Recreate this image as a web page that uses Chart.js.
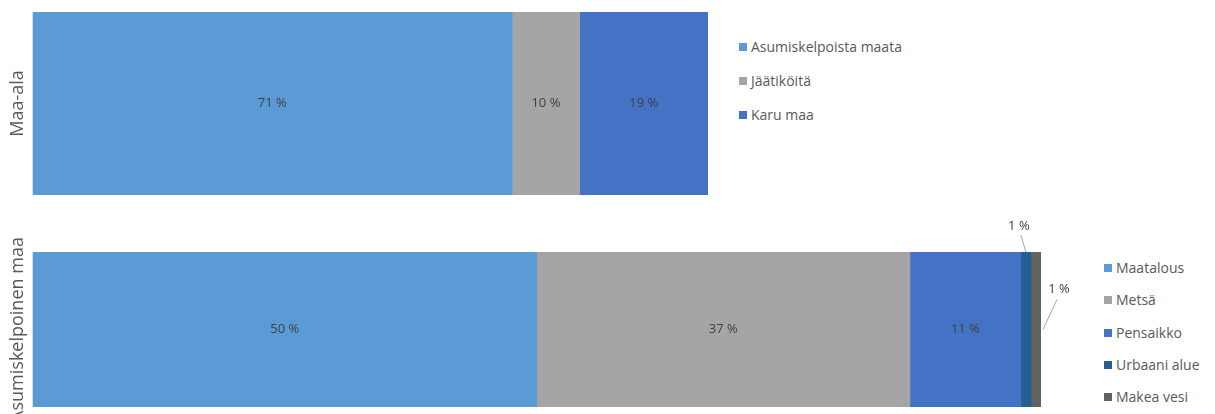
<!DOCTYPE html>
<html lang="fi">
<head>
<meta charset="utf-8">
<title>Maa-ala</title>
<script src="https://cdn.jsdelivr.net/npm/chart.js@4"></script>
<style>
  body { margin: 0; background: #fff; width: 1215px; height: 414px; overflow: hidden; position: relative; font-family: "Open Sans", sans-serif; }
  .panel { position: absolute; }
  #topPanel { left: 0; top: 0; width: 730px; height: 210px; }
  #bottomPanel { left: 0; top: 210px; width: 1090px; height: 204px; }
  .legend { position: absolute; color: #595959; font-size: 14px; }
  .legend div { position: absolute; white-space: nowrap; line-height: 18px; }
  .legend span { display: inline-block; width: 8px; height: 8px; margin-right: 4px; vertical-align: 1px; }
</style>
</head>
<body>
<div class="panel" id="topPanel"><canvas id="landChart"></canvas></div>
<div class="panel" id="bottomPanel"><canvas id="habitableChart"></canvas></div>
<div class="legend" id="landLegend" style="left:739px; top:38px;"></div>
<div class="legend" id="habitableLegend" style="left:1104px; top:259px;"></div>
<script>
// Maa-ala
const landCategory = ['Maa-ala'];
const landSeries = ['Asumiskelpoista maata', 'Jäätiköitä', 'Karu maa'];
const landValues = [71, 10, 19];
const landColors = ['#5b9bd5', '#a5a5a5', '#4472c4'];

// Asumiskelpoinen maa
const habitableCategory = ['Asumiskelpoinen maa'];
const habitableSeries = ['Maatalous', 'Metsä', 'Pensaikko', 'Urbaani alue', 'Makea vesi'];
const habitableValues = [50, 37, 11, 1, 1];
const habitableColors = ['#5b9bd5', '#a5a5a5', '#4472c4', '#255e91', '#636363'];

// pienet arvot piirretään palkin ulkopuolelle viivan kanssa
const outsideOffsets = {
    3: { dx: -7, dy: -26, from: 'top' },
    4: { dx: 23, dy: -40, from: 'middle' }
};

const percentLabels = {
    id: 'percentLabels',
    afterDatasetsDraw(chart) {
        const ctx = chart.ctx;
        ctx.save();
        ctx.font = '13px "Open Sans", sans-serif';
        ctx.fillStyle = '#404040';
        ctx.textAlign = 'center';
        ctx.textBaseline = 'middle';
        chart.data.datasets.forEach((ds, i) => {
            const bar = chart.getDatasetMeta(i).data[0];
            const value = ds.data[0];
            const text = value + ' %';
            const cx = (bar.x + bar.base) / 2;
            if (value >= 5) {
                ctx.fillText(text, cx, bar.y);
                return;
            }
            const off = outsideOffsets[i];
            const top = bar.y - bar.height / 2;
            const anchorY = off.from === 'top' ? top : bar.y;
            const lx = cx + off.dx;
            const ly = anchorY + off.dy;
            ctx.fillText(text, lx, ly);
            ctx.strokeStyle = '#a6a6a6';
            ctx.lineWidth = 1;
            ctx.beginPath();
            if (off.from === 'top') {
                ctx.moveTo(lx + 2, ly + 9);
                ctx.lineTo(cx, anchorY);
            } else {
                ctx.moveTo(lx - 2, ly + 10);
                ctx.lineTo(bar.x + 2, anchorY);
            }
            ctx.stroke();
        });
        ctx.restore();
    }
};

function buildChart(canvasId, category, series, values, colors, padding) {
    const datasets = series.map((name, i) => ({
        label: name,
        data: [values[i]],
        backgroundColor: colors[i],
        borderWidth: 0,
        categoryPercentage: 1,
        barPercentage: 1
    }));
    return new Chart(document.getElementById(canvasId), {
        type: 'bar',
        data: { labels: category, datasets: datasets },
        options: {
            indexAxis: 'y',
            responsive: true,
            maintainAspectRatio: false,
            animation: false,
            layout: { padding: padding },
            plugins: {
                legend: { display: false },
                tooltip: { enabled: false }
            },
            scales: {
                x: { stacked: true, min: 0, max: 100, display: false },
                y: {
                    stacked: true,
                    grid: { display: false, drawTicks: false },
                    border: { display: false },
                    ticks: { display: false, padding: 0 },
                    title: {
                        display: true,
                        text: category[0],
                        color: '#595959',
                        font: { family: '"Open Sans", sans-serif', size: 18 },
                        padding: { top: 0, bottom: 4 }
                    }
                }
            }
        },
        plugins: [percentLabels]
    });
}

function buildLegend(id, series, colors, spacing) {
    const box = document.getElementById(id);
    series.forEach((name, i) => {
        const row = document.createElement('div');
        row.style.top = (i * spacing) + 'px';
        row.innerHTML = `<span style="background:${colors[i]}"></span>${name}`;
        box.appendChild(row);
    });
}

buildChart('landChart', landCategory, landSeries, landValues, landColors,
    { left: 7, right: 22, top: 12, bottom: 15 });
buildChart('habitableChart', habitableCategory, habitableSeries, habitableValues, habitableColors,
    { left: 7, right: 49, top: 42, bottom: 7 });

buildLegend('landLegend', landSeries, landColors, 34);
buildLegend('habitableLegend', habitableSeries, habitableColors, 32.3);
</script>
</body>
</html>
